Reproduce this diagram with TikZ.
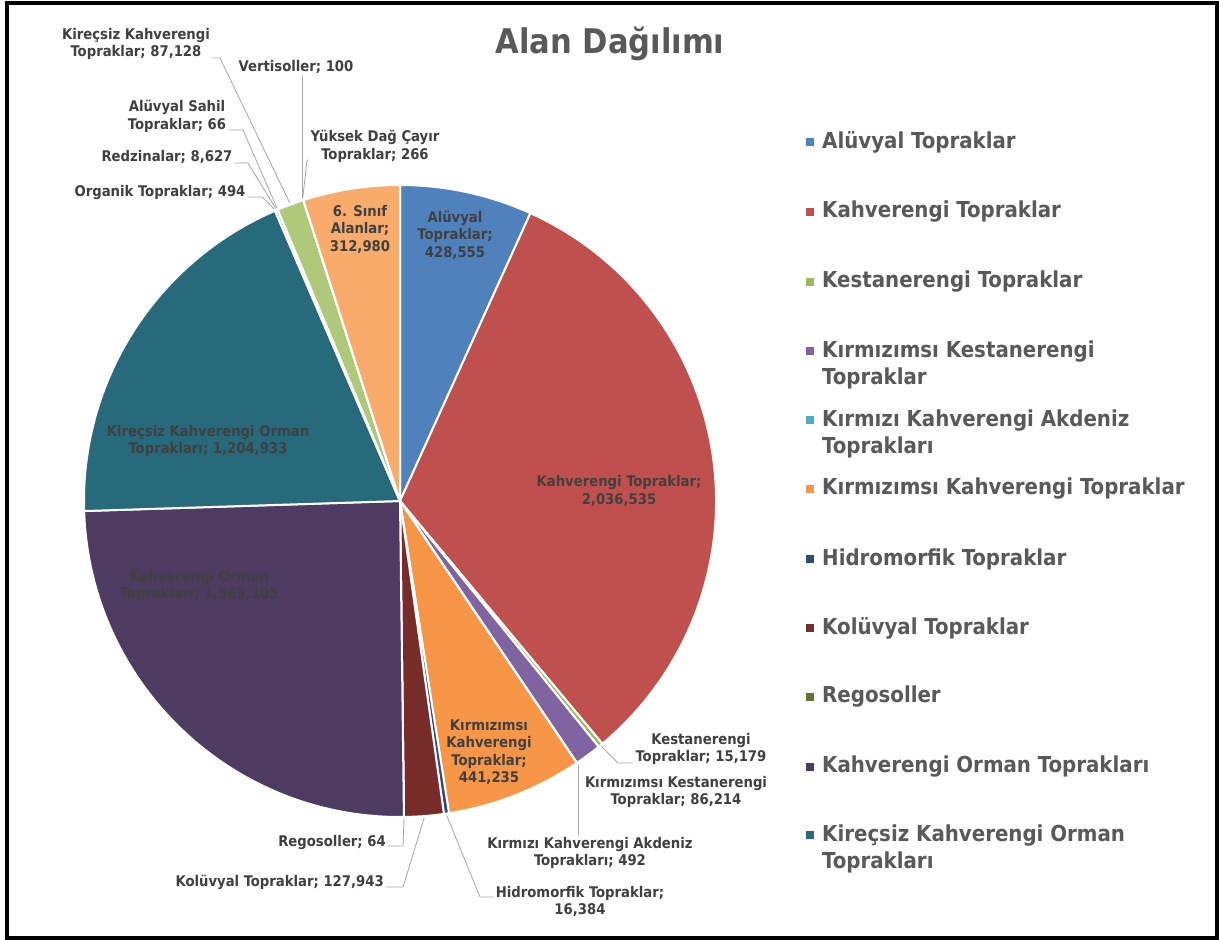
\documentclass[tikz,border=0pt]{standalone}
\usepackage{fontspec}
\newfontfamily\chartfont{DejaVu Sans Condensed}
\usetikzlibrary{calc}

\definecolor{aluvyal}{HTML}{4F81BD}
\definecolor{kahv}{HTML}{C0504D}
\definecolor{kest}{HTML}{9BBB59}
\definecolor{kirmkest}{HTML}{8064A2}
\definecolor{akdeniz}{HTML}{4BACC6}
\definecolor{kirmkahv}{HTML}{F79646}
\definecolor{hidro}{HTML}{2C4D75}
\definecolor{koluv}{HTML}{772C2A}
\definecolor{rego}{HTML}{5F7530}
\definecolor{kahvorman}{HTML}{4D3B62}
\definecolor{kirecsizko}{HTML}{276A7C}
\definecolor{organik}{HTML}{B65708}
\definecolor{redzina}{HTML}{729ACA}
\definecolor{aluvsahil}{HTML}{CD7371}
\definecolor{kirecsizkahv}{HTML}{AFC97A}
\definecolor{verti}{HTML}{9983B5}
\definecolor{yuksek}{HTML}{6FBDD1}
\definecolor{sinif}{HTML}{F9AB6B}
\definecolor{lbltxt}{HTML}{404040}
\definecolor{legtxt}{HTML}{595959}
\definecolor{leadgray}{HTML}{A6A6A6}

\tikzset{
  slice/.style={draw=white, line width=2pt, line join=round},
  dlabel/.style={font=\chartfont\bfseries\fontsize{14.7}{17.5}\selectfont, text=lbltxt, align=center, inner sep=2pt},
  leader/.style={draw=leadgray, line width=0.8pt},
  legbox/.style={minimum size=7.5pt, inner sep=0pt},
  legtext/.style={font=\chartfont\bfseries\fontsize{22}{27}\selectfont, text=legtxt, anchor=west, align=left, inner sep=0pt},
}

\begin{document}
\begin{tikzpicture}[x=1pt, y=1pt]
    \useasboundingbox (0,0) rectangle (1219,-940); % 画布大小
    \draw[line width=4pt] (7,-2.5) rectangle (1217,-937.5); % 外框
    \node[font=\chartfont\bfseries\fontsize{34}{40}\selectfont, text=legtxt] (title) at (610,-44) {Alan Dağılımı}; % 标题

    \coordinate (O) at (400,-501); % 圆心
    \filldraw[slice, fill=aluvyal] (O) -- ($(O)+(90:316)$) arc[start angle=90, end angle=65.628, radius=316] -- cycle;
    \filldraw[slice, fill=kahv] (O) -- ($(O)+(65.628:316)$) arc[start angle=65.628, end angle=-50.188, radius=316] -- cycle;
    \filldraw[slice, fill=kest] (O) -- ($(O)+(-50.188:316)$) arc[start angle=-50.188, end angle=-51.051, radius=316] -- cycle;
    \filldraw[slice, fill=kirmkest] (O) -- ($(O)+(-51.051:316)$) arc[start angle=-51.051, end angle=-55.954, radius=316] -- cycle;
    \filldraw[slice, fill=akdeniz] (O) -- ($(O)+(-55.954:316)$) arc[start angle=-55.954, end angle=-55.982, radius=316] -- cycle;
    \filldraw[slice, fill=kirmkahv] (O) -- ($(O)+(-55.982:316)$) arc[start angle=-55.982, end angle=-81.075, radius=316] -- cycle;
    \filldraw[slice, fill=hidro] (O) -- ($(O)+(-81.075:316)$) arc[start angle=-81.075, end angle=-82.007, radius=316] -- cycle;
    \filldraw[slice, fill=koluv] (O) -- ($(O)+(-82.007:316)$) arc[start angle=-82.007, end angle=-89.283, radius=316] -- cycle;
    \filldraw[slice, fill=rego] (O) -- ($(O)+(-89.283:316)$) arc[start angle=-89.283, end angle=-89.286, radius=316] -- cycle;
    \filldraw[slice, fill=kahvorman] (O) -- ($(O)+(-89.286:316)$) arc[start angle=-89.286, end angle=-178.179, radius=316] -- cycle;
    \filldraw[slice, fill=kirecsizko] (O) -- ($(O)+(-178.179:316)$) arc[start angle=-178.179, end angle=-246.702, radius=316] -- cycle;
    \filldraw[slice, fill=organik] (O) -- ($(O)+(-246.702:316)$) arc[start angle=-246.702, end angle=-246.730, radius=316] -- cycle;
    \filldraw[slice, fill=redzina] (O) -- ($(O)+(-246.730:316)$) arc[start angle=-246.730, end angle=-247.221, radius=316] -- cycle;
    \filldraw[slice, fill=aluvsahil] (O) -- ($(O)+(-247.221:316)$) arc[start angle=-247.221, end angle=-247.225, radius=316] -- cycle;
    \filldraw[slice, fill=kirecsizkahv] (O) -- ($(O)+(-247.225:316)$) arc[start angle=-247.225, end angle=-252.180, radius=316] -- cycle;
    \filldraw[slice, fill=verti] (O) -- ($(O)+(-252.180:316)$) arc[start angle=-252.180, end angle=-252.185, radius=316] -- cycle;
    \filldraw[slice, fill=yuksek] (O) -- ($(O)+(-252.185:316)$) arc[start angle=-252.185, end angle=-252.200, radius=316] -- cycle;
    \filldraw[slice, fill=sinif] (O) -- ($(O)+(-252.200:316)$) arc[start angle=-252.200, end angle=-270, radius=316] -- cycle;

    % 扇形内的标签
    \node[dlabel] (l-aluvyal) at (455,-235) {Alüvyal\\Topraklar;\\428,555};
    \node[dlabel] (l-sinif) at (360,-229) {6. Sınıf\\Alanlar;\\312,980};
    \node[dlabel] (l-kahv) at (619,-491) {Kahverengi Topraklar;\\2,036,535};
    \node[dlabel] (l-kirecsizko) at (208,-441) {Kireçsiz Kahverengi Orman\\Toprakları; 1,204,933};
    \node[dlabel] (l-kahvorman) at (199,-586) {Kahverengi Orman\\Toprakları; 1,563,105};
    \node[dlabel] (l-kirmkahv) at (489,-752) {Kırmızımsı\\Kahverengi\\Topraklar;\\441,235};

    % 扇形外的标签
    \node[dlabel] (l-kest) at (701,-749) {Kestanerengi\\Topraklar; 15,179};
    \node[dlabel] (l-kirmkest) at (676,-792) {Kırmızımsı~Kestanerengi\\Topraklar; 86,214};
    \node[dlabel] (l-akdeniz) at (590,-853) {Kırmızı~Kahverengi Akdeniz\\Toprakları; 492};
    \node[dlabel] (l-hidro) at (580,-901.5) {Hidromorfik Topraklar;\\16,384};
    \node[dlabel, anchor=east] (l-rego) at (388,-842) {Regosoller; 64};
    \node[dlabel, anchor=east] (l-koluv) at (386,-882) {Kolüvyal Topraklar; 127,943};
    \node[dlabel] (l-kirecsizkahv) at (136,-44) {Kireçsiz Kahverengi\\Topraklar; 87,128};
    \node[dlabel] (l-verti) at (296,-67) {Vertisoller; 100};
    \node[dlabel] (l-aluvsahil) at (177,-116.5) {Alüvyal Sahil\\Topraklar; 66};
    \node[dlabel] (l-redzina) at (167,-157) {Redzinalar; 8,627};
    \node[dlabel] (l-organik) at (160,-192) {Organik Topraklar; 494};
    \node[dlabel] (l-yuksek) at (375,-146.5) {Yüksek Dağ Çayır\\Topraklar; 266};

    % 引线
    \coordinate (p-kest) at ($(O)+(-50.62:317)$);
    \coordinate (e-kest) at (618,-763);
    \draw[leader] (p-kest) -- (e-kest) -- (e-kest -| l-kest.west);
    \coordinate (p-akdeniz) at ($(O)+(-55.97:318)$);
    \draw[leader] (p-akdeniz) -- (p-akdeniz |- l-akdeniz.north);
    \coordinate (p-hidro) at ($(O)+(-81.54:318)$);
    \coordinate (e-hidro) at (480,-897);
    \draw[leader] (p-hidro) -- (e-hidro) -- (e-hidro -| l-hidro.west);
    \coordinate (p-rego) at ($(O)+(-89.285:318)$);
    \coordinate (e-rego) at (403,-846);
    \draw[leader] (p-rego) -- (e-rego) -- (e-rego -| l-rego.east);
    \coordinate (p-koluv) at ($(O)+(-85.645:318)$);
    \coordinate (e-koluv) at (403,-887);
    \draw[leader] (p-koluv) -- (e-koluv) -- (e-koluv -| l-koluv.east);
    \coordinate (p-organik) at ($(O)+(113.28:318)$);
    \coordinate (e-organik) at (262,-197);
    \draw[leader] (p-organik) -- (e-organik) -- (e-organik -| l-organik.east);
    \coordinate (p-redzina) at ($(O)+(113.02:318)$);
    \coordinate (e-redzina) at (248,-163);
    \draw[leader] (p-redzina) -- (e-redzina) -- (e-redzina -| l-redzina.east);
    \coordinate (p-aluvsahil) at ($(O)+(112.78:318)$);
    \coordinate (e-aluvsahil) at (243,-130);
    \draw[leader] (p-aluvsahil) -- (e-aluvsahil) -- (e-aluvsahil -| l-aluvsahil.east);
    \coordinate (p-kirecsizkahv) at ($(O)+(110.30:318)$);
    \coordinate (e-kirecsizkahv) at (220,-58);
    \draw[leader] (p-kirecsizkahv) -- (e-kirecsizkahv) -- (e-kirecsizkahv -| l-kirecsizkahv.east);
    \coordinate (p-verti) at ($(O)+(107.82:318)$);
    \draw[leader] (p-verti) -- (p-verti |- l-verti.south);
    \coordinate (p-yuksek) at ($(O)+(107.81:318)$);
    \coordinate (e-yuksek) at (307,-160);
    \draw[leader] (p-yuksek) -- (e-yuksek) -- (e-yuksek -| l-yuksek.west);

    % 图例
    \node[legbox, fill=aluvyal] (g-aluvyal) at (810,-142) {};
    \node[legtext] (t-aluvyal) at (822,-142) {Alüvyal Topraklar};
    \node[legbox, fill=kahv] (g-kahv) at (810,-212) {};
    \node[legtext] (t-kahv) at (822,-212) {Kahverengi Topraklar};
    \node[legbox, fill=kest] (g-kest) at (810,-282) {};
    \node[legtext] (t-kest) at (822,-282) {Kestanerengi Topraklar};
    \node[legbox, fill=kirmkest] (g-kirmkest) at (810,-351) {};
    \node[legtext] (t-kirmkest) at (822,-364.5) {Kırmızımsı Kestanerengi\\Topraklar};
    \node[legbox, fill=akdeniz] (g-akdeniz) at (810,-420) {};
    \node[legtext] (t-akdeniz) at (822,-433.5) {Kırmızı Kahverengi Akdeniz\\Toprakları};
    \node[legbox, fill=kirmkahv] (g-kirmkahv) at (810,-489) {};
    \node[legtext] (t-kirmkahv) at (822,-489) {Kırmızımsı Kahverengi Topraklar};
    \node[legbox, fill=hidro] (g-hidro) at (810,-559) {};
    \node[legtext] (t-hidro) at (822,-559) {Hidromorfik Topraklar};
    \node[legbox, fill=koluv] (g-koluv) at (810,-628) {};
    \node[legtext] (t-koluv) at (822,-628) {Kolüvyal Topraklar};
    \node[legbox, fill=rego] (g-rego) at (810,-697) {};
    \node[legtext] (t-rego) at (822,-697) {Regosoller};
    \node[legbox, fill=kahvorman] (g-kahvorman) at (810,-767) {};
    \node[legtext] (t-kahvorman) at (822,-767) {Kahverengi Orman Toprakları};
    \node[legbox, fill=kirecsizko] (g-kirecsizko) at (810,-835) {};
    \node[legtext] (t-kirecsizko) at (822,-848.5) {Kireçsiz Kahverengi Orman\\Toprakları};
\end{tikzpicture}
\end{document}
